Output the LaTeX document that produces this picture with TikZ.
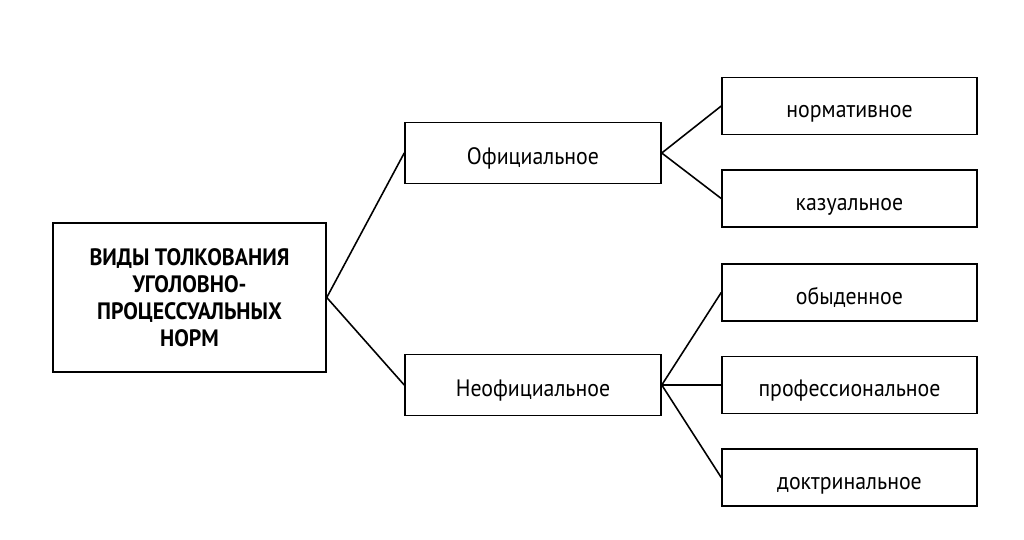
\documentclass[tikz,border=0pt]{standalone}
\usepackage{fontspec}
\setmainfont[FakeStretch=0.92]{PT Sans}
\usetikzlibrary{positioning}

\begin{document}
\begin{tikzpicture}[
    x=0.02cm, y=-0.02cm,
    box/.style={rectangle, draw, line width=0.9pt, align=center, inner sep=0pt, font=\fontsize{13.5}{15}\selectfont},
    rootbox/.style={box, minimum width=5.46cm, minimum height=2.98cm, font=\fontsize{13.5}{15.3}\selectfont\bfseries},
    midbox/.style={box, minimum width=5.12cm, minimum height=1.22cm, text height=13.6pt, text depth=0pt},
    leafbox/.style={box, minimum width=5.1cm, minimum height=1.14cm, text height=13.6pt, text depth=0pt},
    link/.style={line width=0.9pt}
]
\useasboundingbox (0,0) rectangle (1024,539);

% ========== корень ==========
\node[rootbox] (root) at (189.5,297.5) {ВИДЫ ТОЛКОВАНИЯ\\УГОЛОВНО-\\ПРОЦЕССУАЛЬНЫХ\\НОРМ};

% ========== второй уровень ==========
\node[midbox] (ofic) at (533,153) {Официальное};
\node[midbox] (neofic) at (533,385) {Неофициальное};

% ========== третий уровень ==========
\node[leafbox] (norm) at (849.5,106) {нормативное};
\node[leafbox] (kaz) at (849.5,198.5) {казуальное};
\node[leafbox] (obyd) at (849.5,292.5) {обыденное};
\node[leafbox] (prof) at (849.5,385) {профессиональное};
\node[leafbox] (doktr) at (849.5,477.5) {доктринальное};

% Связи
\draw[link] (ofic.west) -- (root.east) -- (neofic.west);
\draw[link] (norm.west) -- (ofic.east) -- (kaz.west);
\draw[link] (obyd.west) -- (neofic.east) -- (doktr.west);
\draw[link] (neofic.east) -- (prof.west);

\end{tikzpicture}
\end{document}
